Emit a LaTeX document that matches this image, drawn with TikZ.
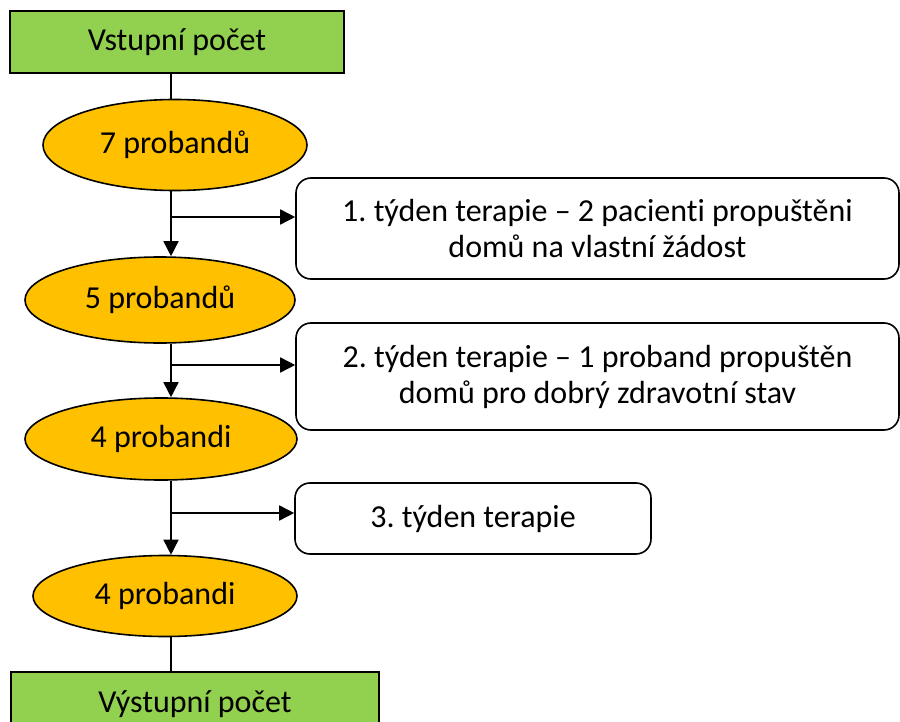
\documentclass[tikz,border=0pt]{standalone}
\usepackage{fontspec}
\setmainfont{Carlito}[Ligatures=CommonOff]
\usetikzlibrary{arrows.meta,shapes.geometric}
\definecolor{cntgreen}{HTML}{92D050}
\definecolor{probgold}{HTML}{FFC000}
\tikzset{pin/.style={-{Triangle[length=7.5pt, width=7.5pt]}},
  cntbox/.style={draw, line width=0.8pt, fill=cntgreen, inner sep=0pt},
  probell/.style={draw, line width=0.8pt, fill=probgold, ellipse, inner sep=0pt},
  weekbox/.style={draw, line width=0.8pt, rounded corners=7.5pt, align=center, inner sep=0pt}}
\frenchspacing

\begin{document}
\begin{tikzpicture}[x=0.5pt, y=-0.5pt, line width=0.8pt, font=\fontsize{16}{18}\selectfont]
  \useasboundingbox (0,0) rectangle (900,722);
  % counts
  \node[cntbox, minimum width=167pt, minimum height=31pt] (cin) at (177,42) {Vstupní počet};
  \node[cntbox, minimum width=184pt, minimum height=32pt] (cout) at (195,704) {Výstupní počet};
  % probands
  \node[probell, minimum width=132pt, minimum height=45.5pt] (p7) at (175,145) {7 probandů};
  \node[probell, minimum width=135pt, minimum height=43pt] (p5) at (160,300) {5 probandů};
  \node[probell, minimum width=136pt, minimum height=41pt] (p4a) at (161,439) {4 probandi};
  \node[probell, minimum width=132pt, minimum height=40.5pt] (p4b) at (165,596) {4 probandi};
  % weeks
  \node[weekbox, minimum width=301.5pt, minimum height=50.5pt] (w1) at (597.5,228.5) {1. týden terapie – 2 pacienti propuštěni\\domů na vlastní žádost};
  \node[weekbox, minimum width=301.5pt, minimum height=53.5pt] (w2) at (597.5,376.5) {2. týden terapie – 1 proband propuštěn\\domů pro dobrý zdravotní stav};
  \node[weekbox, minimum width=178pt, minimum height=35.5pt] (w3) at (473,518.5) {3. týden terapie};
  % spine
  \coordinate (b1) at (171,217);
  \coordinate (b2) at (171,365);
  \coordinate (b3) at (171,513);
  \draw (cin.south -| b1) -- (p7.north -| b1);
  \draw[pin] (p7.south -| b1) -- (p5.north -| b1);
  \draw[pin] (p5.south -| b2) -- (p4a.north -| b2);
  \draw[pin] (p4a.south -| b3) -- (p4b.north -| b3);
  \draw (p4b.south -| b3) -- (cout.north -| b3);
  \draw[pin] (b1) -- (b1 -| w1.west);
  \draw[pin] (b2) -- (b2 -| w2.west);
  \draw[pin] (b3) -- (b3 -| w3.west);
\end{tikzpicture}
\end{document}
